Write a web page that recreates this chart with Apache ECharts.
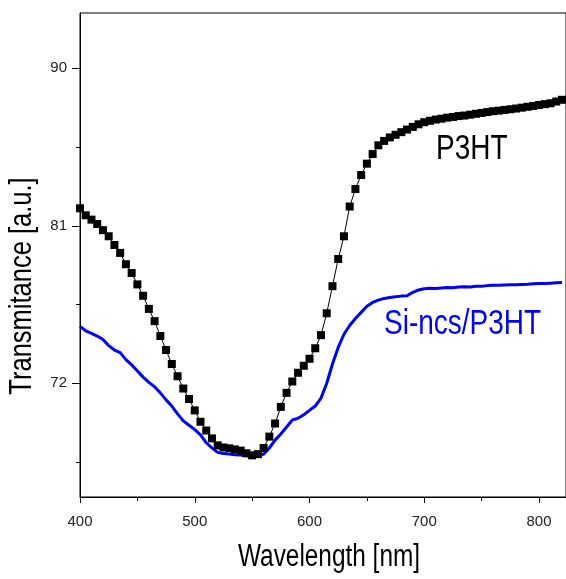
<!DOCTYPE html>
<html>
<head>
<meta charset="utf-8">
<script src="https://cdn.jsdelivr.net/npm/echarts@6/dist/echarts.min.js"></script>
<style>
    html, body { margin: 0; padding: 0; background: #fff; }
    #chart { width: 566px; height: 579px; }
</style>
</head>
<body>
<div id="chart"></div>
<script>
    // wavelength, nm (5 nm step)
    var wavelength = [];
    for (var w = 400; w <= 820; w += 5) wavelength.push(w);

    // P3HT transmittance (black squares)
    var p3ht = [
        82.0, 81.6, 81.35, 81.1, 80.75, 80.4, 79.9, 79.45, 78.8, 78.3,
        77.65, 77.0, 76.25, 75.55, 74.7, 73.9, 73.1, 72.4, 71.7, 71.1,
        70.45, 69.8, 69.3, 68.85, 68.45, 68.33, 68.28, 68.22, 68.15, 68.0,
        67.88, 67.95, 68.3, 68.95, 69.7, 70.65, 71.45, 72.1, 72.6, 73.0,
        73.4, 74.0, 74.75, 76.0, 77.55, 79.1, 80.4, 82.1, 83.1, 83.9,
        84.55, 85.1, 85.6, 85.85, 86.05, 86.2, 86.35, 86.5, 86.65, 86.8,
        86.92, 87.0, 87.07, 87.12, 87.18, 87.22, 87.27, 87.3, 87.35, 87.4,
        87.45, 87.5, 87.55, 87.58, 87.62, 87.66, 87.7, 87.75, 87.8, 87.85,
        87.9, 87.95, 88.0, 88.1, 88.2
    ];

    // Si-ncs/P3HT transmittance (blue line)
    var sincs = [
        75.25, 75.0, 74.85, 74.7, 74.5, 74.15, 73.9, 73.75, 73.35, 73.05,
        72.7, 72.35, 72.05, 71.8, 71.45, 71.05, 70.7, 70.25, 69.85, 69.6,
        69.35, 69.05, 68.6, 68.3, 68.05, 67.98, 67.95, 67.92, 67.9, 67.86,
        67.82, 67.82, 67.95, 68.3, 68.75, 69.1, 69.5, 69.9, 70.0, 70.2,
        70.45, 70.7, 71.15, 72.0, 73.1, 74.05, 74.8, 75.3, 75.7, 76.05,
        76.4, 76.62, 76.75, 76.85, 76.9, 76.95, 76.98, 77.0, 77.2, 77.33,
        77.4, 77.43, 77.42, 77.45, 77.47, 77.46, 77.5, 77.52, 77.5, 77.55,
        77.55, 77.58, 77.6, 77.6, 77.62, 77.63, 77.63, 77.65, 77.66, 77.68,
        77.7, 77.7, 77.72, 77.74, 77.76
    ];

    var xMajor = [400, 500, 600, 700, 800];
    var xMinor = [450, 550, 650, 750];
    var yMajor = [72, 81, 90];
    var yMinor = [67.5, 76.5, 85.5];

    function pairs(ys) {
        return wavelength.map(function (x, i) { return [x, ys[i]]; });
    }

    var chart = echarts.init(document.getElementById('chart'));
    var font = 'Liberation Sans, Arial, sans-serif';
    var xBase = { type: 'value', min: 400, max: 823.5, gridIndex: 0, splitLine: { show: false } };
    var yBase = { type: 'value', min: 65.5, max: 93.16, gridIndex: 0, splitLine: { show: false } };

    var option = {
        animation: false,
        backgroundColor: '#fff',
        grid: {
            left: 80, right: -2, top: 13, bottom: 82,
            show: true, borderColor: '#000', borderWidth: 1
        },
        xAxis: [
            Object.assign({}, xBase, {
                axisLine: { lineStyle: { color: '#000', width: 1 } },
                axisTick: { show: true, length: 6, customValues: xMajor, lineStyle: { color: '#000' } },
                axisLabel: { customValues: xMajor, margin: 17, color: '#222', fontSize: 15, fontFamily: font }
            }),
            Object.assign({}, xBase, {
                position: 'bottom',
                axisLine: { show: false },
                axisTick: { show: true, length: 4, customValues: xMinor, lineStyle: { color: '#000' } },
                axisLabel: { show: false }
            })
        ],
        yAxis: [
            Object.assign({}, yBase, {
                axisLine: { show: true, lineStyle: { color: '#000', width: 1 } },
                axisTick: { show: true, length: 8, customValues: yMajor, lineStyle: { color: '#000' } },
                axisLabel: { customValues: yMajor, margin: 13, color: '#222', fontSize: 15, fontFamily: font }
            }),
            Object.assign({}, yBase, {
                position: 'left',
                axisLine: { show: false },
                axisTick: { show: true, length: 4, customValues: yMinor, lineStyle: { color: '#000' } },
                axisLabel: { show: false }
            })
        ],
        series: [
            {
                name: 'Si-ncs/P3HT',
                type: 'line',
                data: pairs(sincs),
                showSymbol: false,
                lineStyle: { color: '#0000ff', width: 3 },
                z: 2
            },
            {
                name: 'P3HT',
                type: 'line',
                data: pairs(p3ht),
                symbol: 'rect',
                symbolSize: 8,
                itemStyle: { color: '#000' },
                lineStyle: { color: '#000', width: 1 },
                z: 3
            }
        ],
        graphic: [
            {
                type: 'text', x: 436, y: 167, scaleY: 1.22,
                style: { text: 'P3HT', font: '28px ' + font, fill: '#000', textVerticalAlign: 'bottom' }
            },
            {
                type: 'text', x: 384, y: 342, scaleY: 1.22,
                style: { text: 'Si-ncs/P3HT', font: '28px ' + font, fill: '#0000ff', textVerticalAlign: 'bottom' }
            },
            {
                type: 'text', x: 329, y: 573, scaleY: 1.28,
                style: { text: 'Wavelength [nm]', font: '24.4px ' + font, fill: '#000', textAlign: 'center', textVerticalAlign: 'bottom' }
            },
            {
                type: 'text', x: 38, y: 286, rotation: Math.PI / 2, scaleY: 1.2,
                style: { text: 'Transmitance [a.u.]', font: '25.5px ' + font, fill: '#000', textAlign: 'center', textVerticalAlign: 'bottom' }
            }
        ]
    };
    chart.setOption(option);
</script>
</body>
</html>
